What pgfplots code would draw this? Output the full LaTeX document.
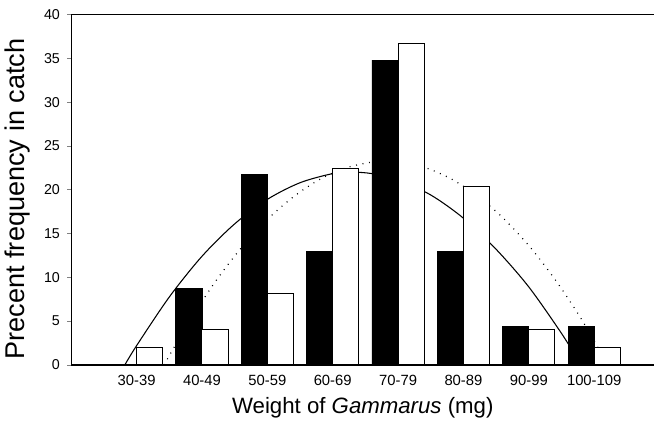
\documentclass[border=0pt]{standalone}
\usepackage{pgfplots}
\pgfplotsset{compat=1.18}
\usepackage{fontspec}
\setmainfont{Liberation Sans}
\begin{document}
\begin{tikzpicture}
\begin{axis}[
  width=441pt, height=265pt, scale only axis,
  xmin=-1, xmax=7.92, ymin=0, ymax=40,
  axis lines=left,
  axis line style={-, line width=1pt},
  xtick={0,1,2,3,4,5,6,7},
  xticklabels={30-39,40-49,50-59,60-69,70-79,80-89,90-99,100-109},
  xtick style={draw=none},
  ytick={0,5,...,40},
  tick align=outside,
  major tick length=3pt,
  ytick style={line width=0.6pt},
  /pgf/number format/assume math mode=true,
  xticklabel style={font=\fontsize{11.2}{13}\selectfont, yshift=-1pt},
  yticklabel style={font=\fontsize{10.8}{13}\selectfont, xshift=-2pt},
  xlabel={Weight of \textit{Gammarus} (mg)},
  ylabel={Precent frequency in catch},
  xlabel style={font=\fontsize{16.8}{20}\selectfont, yshift=-2pt},
  ylabel style={font=\fontsize{20.5}{24}\selectfont, yshift=4pt, xshift=-7pt},
  clip=false,
]
\draw[line width=1pt] (rel axis cs:0,1) -- (rel axis cs:1,1);
\path (rel axis cs:0,1) ++(0,11pt);
\path (rel axis cs:0,0) ++(0,-40.5pt);
% solid curve
\addplot[black, line width=0.8pt, smooth] coordinates {
(-0.18,0) (0,2.2) (0.5,7.75) (1.0,12.4) (1.5,16.1) (2.0,18.9) (2.5,20.8)
(3.0,21.84) (3.3,22.0) (3.6,21.84) (4.0,21.1) (4.5,19.4) (5.0,16.75)
(5.5,13.2) (6.0,8.9) (6.5,3.6) (6.8,0)
};
% dotted curve
\addplot[black, line width=0.9pt, smooth, dash pattern=on 0.7pt off 4.3pt] coordinates {
(0.42,0) (0.8,4.9) (1.2,9.46) (1.6,13.35) (2.0,16.6) (2.4,19.2) (2.8,21.17)
(3.2,22.49) (3.6,23.16) (3.815,23.25) (4.0,23.18) (4.4,22.56) (4.8,21.29)
(5.2,19.38) (5.6,16.82) (6.0,13.62) (6.4,9.77) (6.8,5.28) (7.21,0)
};
% black bars
\addplot[ybar, bar width=0.4, bar shift=-0.2, fill=black, draw=black, line width=0.6pt] coordinates {
(0,0) (1,8.7) (2,21.7) (3,13.0) (4,34.8) (5,13.0) (6,4.35) (7,4.35)
};
% white bars
\addplot[ybar, bar width=0.4, bar shift=0.2, fill=white, draw=black, line width=0.75pt] coordinates {
(0,2.04) (1,4.08) (2,8.16) (3,22.4) (4,36.7) (5,20.4) (6,4.08) (7,2.04)
};
\end{axis}
\end{tikzpicture}
\end{document}
